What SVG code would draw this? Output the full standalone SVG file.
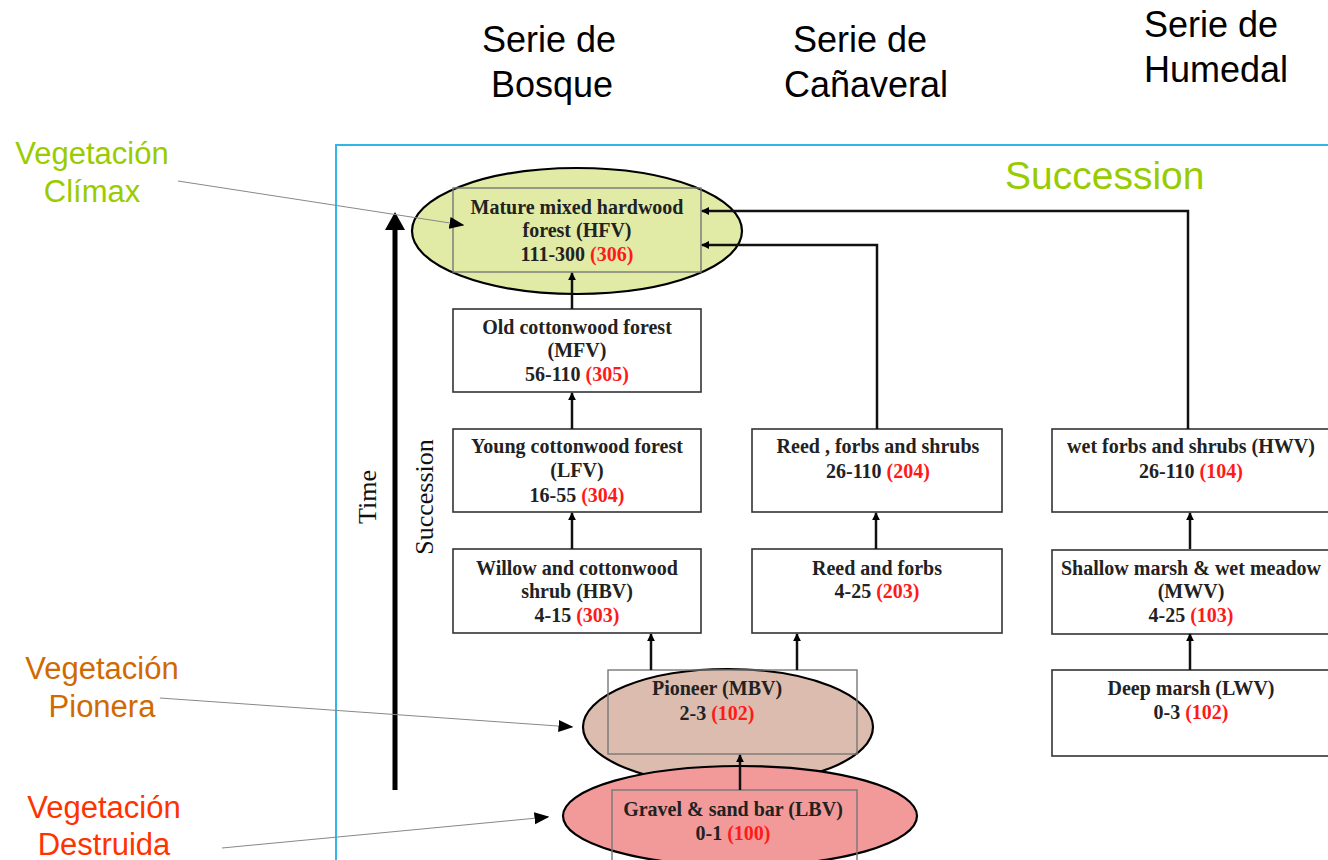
<svg xmlns="http://www.w3.org/2000/svg" width="1328" height="860" viewBox="0 0 1328 860">
<style>
.hdr{font-family:"Liberation Sans",Arial,sans-serif;font-size:36px;fill:#000;text-anchor:middle}
.veg{font-family:"Liberation Sans",Arial,sans-serif;font-size:31px;text-anchor:middle}
.nt{font-family:"Liberation Serif","Times New Roman",serif;font-size:20px;font-weight:bold;fill:#222;text-anchor:middle}
.red{fill:#ff1a1a}
.box{fill:#fff;stroke:#333;stroke-width:1.6}
.lbox{fill:none;stroke:#777;stroke-width:1.4}
.ell{stroke:#000;stroke-width:2.2}
.con{fill:none;stroke:#111;stroke-width:2.5}
.lead{fill:none;stroke:#888;stroke-width:1}
.ax{font-family:"Liberation Serif","Times New Roman",serif;font-size:26px;fill:#111;text-anchor:middle}
</style>
<defs>
<marker id="ah" viewBox="0 0 10 10" refX="9" refY="5" markerWidth="8" markerHeight="8" markerUnits="userSpaceOnUse" orient="auto">
<path d="M0,0 L10,5 L0,10 z" fill="#000"/>
</marker>
<marker id="lh" viewBox="0 0 10 10" refX="9" refY="5" markerWidth="15" markerHeight="15" markerUnits="userSpaceOnUse" orient="auto">
<path d="M0,1 L10,5 L0,9 z" fill="#000"/>
</marker>
</defs>
<rect width="1328" height="860" fill="#fff"/>

<g id="headers">
<text class="hdr" x="549" y="52">Serie de</text>
<text class="hdr" x="552" y="97">Bosque</text>
<text class="hdr" x="860" y="52">Serie de</text>
<text class="hdr" x="866" y="97">Cañaveral</text>
<text class="hdr" x="1211" y="37">Serie de</text>
<text class="hdr" x="1216" y="82">Humedal</text>
</g>

<rect x="336" y="145" width="1010" height="730" fill="none" stroke="#33b5e5" stroke-width="2"/>
<text x="1005" y="189" font-family="Liberation Sans,Arial,sans-serif" font-size="39" fill="#99cc00">Succession</text>

<g id="lbl-climax">
<text class="veg" x="92" y="164" fill="#99cc00">Vegetación</text>
<text class="veg" x="92" y="202" fill="#99cc00">Clímax</text>
</g>
<g id="lbl-pionera">
<text class="veg" x="102" y="679" fill="#d06a00">Vegetación</text>
<text class="veg" x="102" y="717" fill="#d06a00">Pionera</text>
</g>
<g id="lbl-destruida">
<text class="veg" x="104" y="818" fill="#ff3300">Vegetación</text>
<text class="veg" x="104" y="855" fill="#ff3300">Destruida</text>
</g>

<g id="time-axis">
<line x1="395" y1="790" x2="395" y2="226" stroke="#000" stroke-width="5"/>
<path d="M385,230 L405,230 L395,212 z" fill="#000"/>
<text class="ax" transform="translate(376,497) rotate(-90)">Time</text>
<text class="ax" transform="translate(433,497) rotate(-90)">Succession</text>
</g>

<g id="n-mature">
<ellipse class="ell" cx="577" cy="231" rx="165" ry="63" fill="#e1eba6"/>
<rect class="lbox" x="453" y="188" width="248" height="84"/>
<text class="nt" x="577" y="214">Mature mixed hardwood</text>
<text class="nt" x="577" y="237">forest (HFV)</text>
<text class="nt" x="577" y="261">111-300 <tspan class="red">(306)</tspan></text>
</g>
<g id="n-old">
<rect class="box" x="453" y="309" width="248" height="83"/>
<text class="nt" x="577" y="334">Old cottonwood forest</text>
<text class="nt" x="577" y="357">(MFV)</text>
<text class="nt" x="577" y="381">56-110 <tspan class="red">(305)</tspan></text>
</g>
<g id="n-young">
<rect class="box" x="453" y="429" width="248" height="83"/>
<text class="nt" x="577" y="453">Young cottonwood forest</text>
<text class="nt" x="577" y="477">(LFV)</text>
<text class="nt" x="577" y="502">16-55 <tspan class="red">(304)</tspan></text>
</g>
<g id="n-willow">
<rect class="box" x="453" y="549" width="248" height="84"/>
<text class="nt" x="577" y="575">Willow and cottonwood</text>
<text class="nt" x="577" y="598">shrub (HBV)</text>
<text class="nt" x="577" y="622">4-15 <tspan class="red">(303)</tspan></text>
</g>
<g id="n-reedshrubs">
<rect class="box" x="752" y="429" width="250" height="83"/>
<text class="nt" x="878" y="453">Reed , forbs and shrubs</text>
<text class="nt" x="878" y="478">26-110 <tspan class="red">(204)</tspan></text>
</g>
<g id="n-reedforbs">
<rect class="box" x="752" y="549" width="250" height="84"/>
<text class="nt" x="877" y="575">Reed and forbs</text>
<text class="nt" x="877" y="598">4-25 <tspan class="red">(203)</tspan></text>
</g>
<g id="n-wetforbs">
<rect class="box" x="1052" y="429" width="290" height="83"/>
<text class="nt" x="1191" y="453">wet forbs and shrubs (HWV)</text>
<text class="nt" x="1191" y="478">26-110 <tspan class="red">(104)</tspan></text>
</g>
<g id="n-shallow">
<rect class="box" x="1052" y="550" width="290" height="84"/>
<text class="nt" x="1191" y="575">Shallow marsh &amp; wet meadow</text>
<text class="nt" x="1191" y="598">(MWV)</text>
<text class="nt" x="1191" y="622">4-25 <tspan class="red">(103)</tspan></text>
</g>
<g id="n-deep">
<rect class="box" x="1052" y="670" width="290" height="86"/>
<text class="nt" x="1191" y="695">Deep marsh (LWV)</text>
<text class="nt" x="1191" y="719">0-3 <tspan class="red">(102)</tspan></text>
</g>
<g id="n-pioneer">
<ellipse class="ell" cx="728" cy="727" rx="145" ry="58" fill="#dcbcae"/>
<rect class="lbox" x="608" y="670" width="249" height="84"/>
<text class="nt" x="717" y="695" fill="#333">Pioneer (MBV)</text>
<text class="nt" x="717" y="720" fill="#333">2-3 <tspan class="red">(102)</tspan></text>
</g>
<g id="n-gravel">
<ellipse class="ell" cx="740" cy="816" rx="177" ry="50" fill="#f29a9a"/>
<rect class="lbox" x="612" y="790" width="245" height="80"/>
<text class="nt" x="733" y="816" fill="#552222">Gravel &amp; sand bar (LBV)</text>
<text class="nt" x="733" y="840" fill="#552222">0-1 <tspan class="red">(100)</tspan></text>
</g>

<g id="connectors">
<line class="con" x1="572" y1="309" x2="572" y2="273" marker-end="url(#ah)"/>
<line class="con" x1="572" y1="429" x2="572" y2="393" marker-end="url(#ah)"/>
<line class="con" x1="572" y1="549" x2="572" y2="513" marker-end="url(#ah)"/>
<line class="con" x1="651" y1="670" x2="651" y2="634" marker-end="url(#ah)"/>
<line class="con" x1="797" y1="670" x2="797" y2="634" marker-end="url(#ah)"/>
<line class="con" x1="740" y1="790" x2="740" y2="755" stroke-width="1.5" marker-end="url(#ah)"/>
<line class="con" x1="876" y1="549" x2="876" y2="513" stroke-width="2" marker-end="url(#ah)"/>
<line class="con" x1="1190" y1="549" x2="1190" y2="513" marker-end="url(#ah)"/>
<line class="con" x1="1190" y1="670" x2="1190" y2="634" marker-end="url(#ah)"/>
<polyline class="con" points="877,429 877,245 702,245" stroke-width="3" marker-end="url(#ah)"/>
<polyline class="con" points="1188,429 1188,211 702,211" stroke-width="3" marker-end="url(#ah)"/>
<line class="lead" x1="178" y1="181" x2="463" y2="225" marker-end="url(#lh)"/>
<line class="lead" x1="160" y1="698" x2="572" y2="727" marker-end="url(#lh)"/>
<line class="lead" x1="222" y1="848" x2="548" y2="817" marker-end="url(#lh)"/>
</g>
</svg>
